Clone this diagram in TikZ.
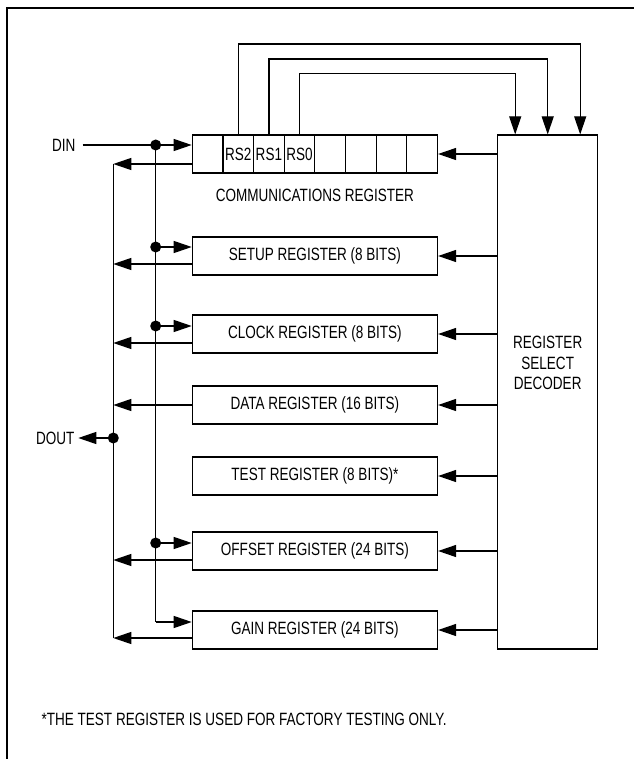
\documentclass[tikz,border=0pt]{standalone}
\usepackage{fontspec}
\setmainfont{Liberation Sans}[FakeStretch=0.76]
\usetikzlibrary{arrows.meta,calc}
\begin{document}
\begin{tikzpicture}[x=1pt,y=-1pt,
  line width=1.2pt,
  every node/.style={font=\fontsize{17.8}{20.5}\selectfont},
  reg/.style={draw, minimum width=245.2pt, minimum height=38pt, inner sep=0pt},
  cellbox/.style={draw, minimum width=30.65pt, minimum height=38pt, inner sep=0pt},
  arr/.style={-{Triangle[length=18pt,width=12pt]}},
  dot/.style={circle, fill, inner sep=0pt, minimum size=11pt},
  lbl/.style={inner sep=0pt}]
\useasboundingbox (0,0) rectangle (634,759);
\draw[line width=2.2pt] (7.3,759) -- (7.3,8.3) -- (634,8.3);

% communications register cells
\foreach \i/\t in {0/,1/RS2,2/RS1,3/RS0,4/,5/,6/,7/}
  \node[cellbox] (c\i) at ({207.6+30.65*\i},154) {\t};
\node[lbl] (commlbl) at (314.9,195.3) {COMMUNICATIONS REGISTER};

% registers
\node[reg] (setup)  at (314.9,256) {SETUP REGISTER (8 BITS)};
\node[reg] (clock)  at (314.9,334) {CLOCK REGISTER (8 BITS)};
\node[reg] (data)   at (314.9,405) {DATA REGISTER (16 BITS)};
\node[reg] (test)   at (314.9,476) {TEST REGISTER (8 BITS)*};
\node[reg] (offset) at (314.9,551) {OFFSET REGISTER (24 BITS)};
\node[reg] (gain)   at (314.9,630) {GAIN REGISTER (24 BITS)};

% decoder
\node[draw, minimum width=100pt, minimum height=514pt, inner sep=0pt] (dec) at (547.7,392) {};
\node[lbl, align=center] (dectext) at (547.7,363) {REGISTER\\SELECT\\DECODER};

\foreach \r in {c7,setup,clock,data,test,offset,gain}
  \draw[arr] (dec.west |- \r.east) -- (\r.east);

% RS lines to decoder
\coordinate (h2) at (0,44);
\coordinate (h1) at (0,59);
\coordinate (h0) at (0,73.3);
\coordinate (d2) at ([xshift=32.5pt]dec.north);
\coordinate (d1) at (dec.north);
\coordinate (d0) at ([xshift=-32.5pt]dec.north);
\draw[arr] (c1.north) -- (c1.north |- h2) -| (d2);
\draw[arr] (c2.north) -- (c2.north |- h1) -| (d1);
\draw[arr] (c3.north) -- (c3.north |- h0) -| (d0);

% input bus
\coordinate (j0) at (155.7,145);
\coordinate (j1) at (155.7,247);
\coordinate (j2) at (155.7,326);
\coordinate (j3) at (155.7,543);
\coordinate (j4) at (155.7,622);
\node[lbl, anchor=east] (din) at (76,145) {DIN};
\draw ([xshift=6.7pt]din.east) -- (j0);
\draw (j0) -- (j4);
\draw[arr] (j0) -- (j0 -| c0.west);
\draw[arr] (j1) -- (j1 -| setup.west);
\draw[arr] (j2) -- (j2 -| clock.west);
\draw[arr] (j3) -- (j3 -| offset.west);
\draw[arr] (j4) -- (j4 -| gain.west);

% output bus
\coordinate (o0) at (113.3,164);
\coordinate (o1) at (113.3,264);
\coordinate (o2) at (113.3,343);
\coordinate (o3) at (113.3,405);
\coordinate (o4) at (113.3,560);
\coordinate (o5) at (113.3,638);
\coordinate (jd) at (113.3,438);
\draw (o0) -- (o5);
\draw[arr] (c0.west |- o0) -- (o0);
\draw[arr] (setup.west |- o1) -- (o1);
\draw[arr] (clock.west |- o2) -- (o2);
\draw[arr] (data.west |- o3) -- (o3);
\draw[arr] (offset.west |- o4) -- (o4);
\draw[arr] (gain.west |- o5) -- (o5);
\node[lbl, anchor=east] (dout) at (75,438) {DOUT};
\draw[arr] (jd) -- ([xshift=3.3pt]dout.east);

% junction dots
\foreach \p in {j0,j1,j2,j3,jd}
  \node[dot] at (\p) {};

% footnote
\node[lbl, anchor=west] (foot) at (41,719) {*THE TEST REGISTER IS USED FOR FACTORY TESTING ONLY.};
\end{tikzpicture}
\end{document}
